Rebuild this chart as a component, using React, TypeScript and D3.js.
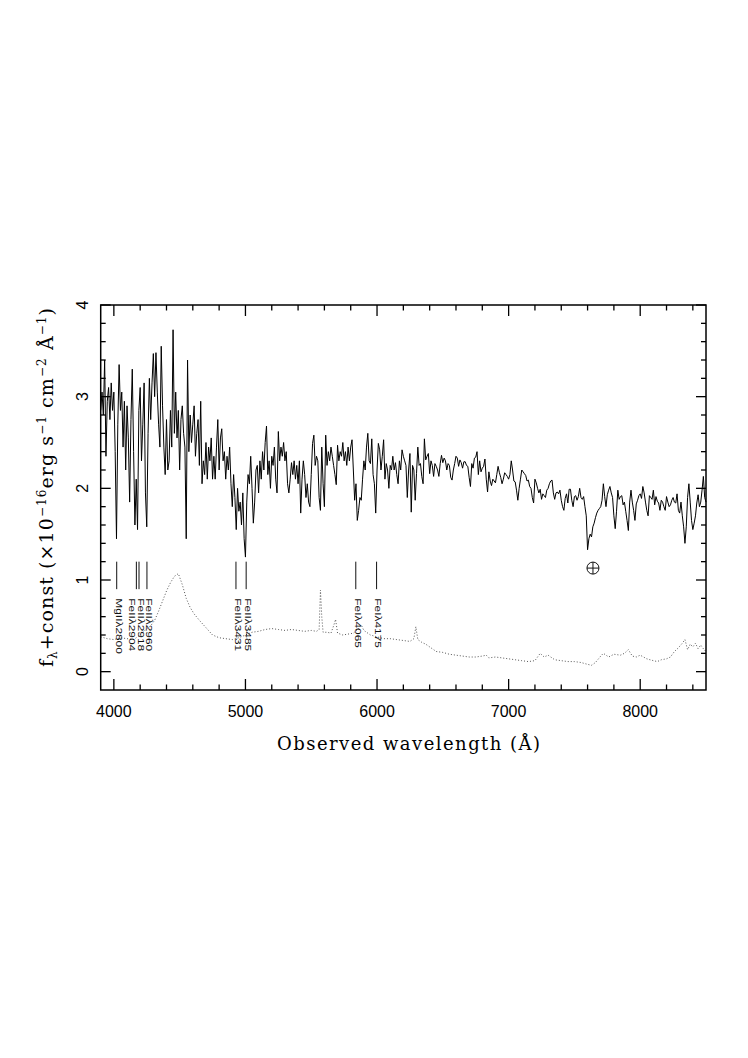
import * as d3 from "d3";

const WAVE_START = 3900;
const WAVE_STEP = 10;
const flux = [
  2.85, 3.05, 2.8, 3.4, 2.35, 2.95, 3.1, 2.75, 3.15, 2.85,
  3.05, 2.4, 1.45, 2.7, 3.35, 2.85, 3.05, 2.45, 2.95, 2.2,
  2.9, 2.55, 1.85, 2.75, 3.3, 2.4, 1.6, 2.1, 1.55, 2.85,
  3.1, 2.3, 2.7, 3.15, 1.95, 1.58, 2.6, 3.2, 2.75, 3.15,
  3.47, 3.0, 3.48, 3.05, 2.7, 2.45, 3.55, 2.9, 2.45, 2.15,
  2.75, 2.2, 2.3, 2.85, 2.45, 3.73, 2.6, 3.05, 2.55, 2.85,
  2.2, 2.75, 2.9, 2.6, 2.45, 1.45, 3.4, 2.4, 2.8, 2.5,
  2.7, 2.9, 2.35, 2.6, 2.75, 2.25, 2.95, 2.05, 2.3, 2.15,
  2.5, 2.1, 2.45, 2.3, 2.55, 2.1, 2.35, 2.1, 2.45, 2.75,
  2.2, 2.55, 2.65, 2.3, 2.4, 2.1, 2.35, 2.2, 2.45, 2.05,
  1.8, 2.15, 1.9, 1.55, 2.0, 1.75, 1.85, 1.6, 1.95, 1.45,
  1.25, 1.85, 2.15, 2.05, 2.35, 2.0, 1.62, 1.85, 2.2, 2.25,
  1.95, 2.3, 2.1, 2.4, 2.2, 2.5, 2.68, 2.15, 2.3, 2.0,
  2.35, 2.25, 2.45, 2.1, 1.95, 2.62, 2.3, 2.45, 2.35, 2.5,
  2.3, 2.4, 2.05, 1.95, 2.1, 2.28, 2.15, 2.3, 2.1, 2.25,
  2.05, 2.3, 1.73, 2.1, 2.3, 2.15, 1.9, 2.05, 1.85, 1.8,
  2.15, 2.49, 2.58, 2.25, 2.35, 2.3, 1.9, 1.76, 2.45, 2.05,
  1.8, 2.58, 2.25, 2.4, 2.3, 2.45, 2.35, 2.25, 2.15, 2.04,
  2.47, 2.3, 2.4, 2.35, 2.5, 2.3, 2.4, 2.25, 2.45, 2.3,
  2.45, 2.53, 2.2, 1.87, 2.05, 1.65, 1.76, 1.9, 1.87, 2.1,
  2.3, 2.2, 2.45, 2.6, 2.3, 2.27, 2.54, 2.15, 2.05, 1.73,
  2.2, 2.49, 2.42, 2.2, 2.35, 2.53, 2.1, 2.27, 2.2, 2.0,
  2.25, 2.2, 2.35, 2.2, 2.28, 2.15, 2.05, 2.3, 2.2, 2.42,
  2.35, 2.3, 2.25, 1.9, 2.2, 2.38, 1.74, 2.25, 2.2, 1.87,
  2.16, 2.45, 2.25, 2.27, 2.13, 2.05, 2.54, 2.31, 2.35, 2.38,
  2.16, 2.3, 2.25, 2.13, 2.27, 2.24, 2.2, 2.13, 2.27, 2.36,
  2.28, 2.33, 2.3, 2.2, 2.27, 2.25, 2.12, 2.09, 2.2, 2.27,
  2.35, 2.33, 2.24, 2.31, 2.28, 2.22, 2.29, 2.29, 2.25, 2.24,
  2.12, 2.02, 2.27, 2.22, 2.33, 2.34, 2.4, 2.15, 2.3, 2.18,
  2.22, 2.24, 2.32, 2.1, 1.96, 2.18, 2.08, 2.03, 2.1, 2.08,
  2.06, 2.15, 2.24, 2.17, 2.12, 2.05, 2.1, 2.17, 2.15, 2.13,
  2.1, 2.15, 2.3, 2.2, 2.08, 2.07, 1.98, 1.87, 2.0, 2.1,
  2.2, 2.18, 2.16, 2.14, 2.08, 2.09, 2.02, 2.0, 1.9, 1.84,
  2.1, 2.06, 2.0, 1.95, 1.99, 1.88, 1.94, 1.92, 1.9, 1.98,
  2.0, 2.05, 2.08, 2.09, 1.95, 1.88, 1.95, 1.96, 1.94, 1.98,
  1.87, 1.8, 1.76, 1.89, 1.94, 1.84, 1.99, 1.99, 1.87, 1.8,
  1.91, 1.92, 1.87, 1.91, 2.0, 1.9, 1.88, 1.91, 1.8, 1.7,
  1.33, 1.45, 1.5, 1.47, 1.58, 1.62, 1.68, 1.73, 1.76, 1.78,
  1.8, 1.87, 2.05, 1.91, 1.8, 1.93, 1.98, 2.02, 1.95, 1.9,
  1.7, 1.56, 1.75, 1.98, 1.88, 1.91, 1.92, 1.82, 1.85, 1.75,
  1.65, 1.54, 1.85, 1.98, 1.85, 1.76, 1.65, 1.83, 1.87, 1.92,
  1.94, 1.89, 2.02, 1.95, 1.85, 1.76, 1.7, 1.92, 1.9, 1.88,
  1.98, 1.82, 1.91, 1.86, 1.84, 1.76, 1.87, 1.85, 1.8, 1.76,
  1.91, 1.85, 1.8, 1.82, 1.87, 1.9, 1.85, 1.84, 1.94, 1.76,
  1.73, 1.85, 1.7, 1.58, 1.4, 1.58, 1.9, 2.05, 1.85, 1.65,
  1.55, 1.62, 1.7, 1.84, 1.93, 1.8, 1.85, 1.98, 2.13, 1.9,
  1.85,
];

// sky / comparison spectrum drawn dotted: [wavelength, flux]
const skyCurve: [number, number][] = [
  [3900, 0.38], [3950, 0.36], [4000, 0.35], [4050, 0.37], [4100, 0.36],
  [4150, 0.35], [4200, 0.4], [4250, 0.47], [4280, 0.5], [4310, 0.56],
  [4340, 0.66], [4370, 0.77], [4400, 0.88], [4430, 0.97], [4460, 1.04],
  [4490, 1.07], [4520, 0.95], [4550, 0.8], [4580, 0.7], [4610, 0.63],
  [4650, 0.56], [4700, 0.48], [4750, 0.4], [4800, 0.37], [4850, 0.36],
  [4900, 0.35], [4950, 0.37], [5000, 0.4], [5050, 0.43], [5100, 0.44],
  [5150, 0.46], [5200, 0.47], [5250, 0.46], [5300, 0.45], [5350, 0.46],
  [5400, 0.45], [5450, 0.44], [5500, 0.45], [5540, 0.44], [5560, 0.46],
  [5570, 0.89], [5580, 0.6], [5590, 0.43], [5620, 0.43], [5650, 0.42],
  [5670, 0.5], [5685, 0.57], [5700, 0.42], [5740, 0.4], [5780, 0.41],
  [5820, 0.42], [5860, 0.47], [5880, 0.51], [5900, 0.45], [5950, 0.4],
  [6000, 0.38], [6050, 0.36], [6100, 0.36], [6150, 0.35], [6200, 0.34],
  [6250, 0.33], [6280, 0.36], [6295, 0.49], [6310, 0.35], [6340, 0.32],
  [6370, 0.3], [6400, 0.27], [6450, 0.22], [6500, 0.21], [6550, 0.19],
  [6600, 0.18], [6650, 0.17], [6700, 0.16], [6750, 0.16], [6800, 0.17],
  [6830, 0.18], [6850, 0.15], [6900, 0.16], [6950, 0.15], [7000, 0.14],
  [7050, 0.13], [7100, 0.12], [7150, 0.11], [7200, 0.12], [7240, 0.2],
  [7270, 0.16], [7300, 0.18], [7350, 0.13], [7400, 0.12], [7450, 0.11],
  [7500, 0.11], [7550, 0.1], [7600, 0.08], [7630, 0.07], [7660, 0.1],
  [7700, 0.17], [7720, 0.2], [7760, 0.16], [7800, 0.19], [7850, 0.18],
  [7880, 0.2], [7910, 0.24], [7940, 0.17], [7970, 0.16], [8000, 0.18],
  [8050, 0.14], [8100, 0.12], [8130, 0.11], [8160, 0.13], [8200, 0.14],
  [8230, 0.16], [8260, 0.22], [8290, 0.26], [8320, 0.31], [8340, 0.35],
  [8360, 0.24], [8380, 0.3], [8400, 0.27], [8420, 0.31], [8440, 0.25],
  [8460, 0.29], [8480, 0.25], [8500, 0.22],
];

// identified absorption lines (rest wavelengths) and redshift
const REDSHIFT = 0.4363;
const lineNames = ["MgIIλ2800", "FeIIλ2904", "FeIIλ2918", "FeIIλ2960", "FeIIλ3431", "FeIIλ3485", "FeIλ4065", "FeIλ4175"];
const lineRest = [2800, 2904, 2918, 2960, 3431, 3485, 4065, 4175];

// telluric A-band marker
const telluricWave = 7641;
const telluricFlux = 1.13;

const xDomain = [3900, 8500];
const yDomain = [-0.2, 4];
const xMajor = [4000, 5000, 6000, 7000, 8000];
const yMajor = [0, 1, 2, 3, 4];

const BOX = { left: 100.7, right: 706, top: 305, bottom: 690 };

export default function App() {
  const x = d3.scaleLinear().domain(xDomain).range([BOX.left, BOX.right]);
  const y = d3.scaleLinear().domain(yDomain).range([BOX.bottom, BOX.top]);

  const specLine = d3
    .line<number>()
    .x((_, i) => x(WAVE_START + i * WAVE_STEP))
    .y((d) => y(d));
  const skyLine = d3
    .line<[number, number]>()
    .x((d) => x(d[0]))
    .y((d) => y(d[1]));

  const xMinor = d3.range(4000, 8501, 200).filter((v) => v % 1000 !== 0);
  const yMinor = d3.range(1, 20).map((i) => i * 0.2).filter((v) => Math.abs(v - Math.round(v)) > 1e-6);

  const lineX = lineRest.map((r) => x(r * (1 + REDSHIFT)));

  const tickFont = "'Liberation Sans', Arial, sans-serif";
  const serif = "'DejaVu Serif', serif";

  return (
    <svg
      width={748}
      height={1058}
      style={{ position: "absolute", left: 0, top: 0, background: "#fff" }}
    >
      {/* dotted comparison spectrum */}
      <path
        d={skyLine(skyCurve) ?? ""}
        fill="none"
        stroke="#555"
        strokeWidth={1}
        strokeDasharray="1 2"
      />
      {/* object spectrum */}
      <path d={specLine(flux) ?? ""} fill="none" stroke="#000" strokeWidth={1} />

      {/* line identifications */}
      {lineNames.map((name, i) => {
        const lx = lineX[i];
        const crowded = i + 1 < lineX.length && lineX[i + 1] - lx < 5;
        const tx = lx - 1.2 + (crowded ? -6.5 : 0);
        const ty = y(0.8);
        return (
          <g key={name}>
            <line x1={lx} x2={lx} y1={y(1.2)} y2={y(0.9)} stroke="#111" strokeWidth={1} />
            <text
              transform={`translate(${tx},${ty}) rotate(90) scale(1.4,1)`}
              fontFamily={tickFont}
              fontSize={8.5}
              fill="#111"
            >
              {name}
            </text>
          </g>
        );
      })}

      {/* telluric symbol */}
      <g stroke="#111" strokeWidth={1} fill="none">
        <circle cx={x(telluricWave)} cy={y(telluricFlux)} r={6} />
        <line x1={x(telluricWave) - 6} x2={x(telluricWave) + 6} y1={y(telluricFlux)} y2={y(telluricFlux)} />
        <line x1={x(telluricWave)} x2={x(telluricWave)} y1={y(telluricFlux) - 6} y2={y(telluricFlux) + 6} />
      </g>

      {/* frame */}
      <rect
        x={BOX.left}
        y={BOX.top}
        width={BOX.right - BOX.left}
        height={BOX.bottom - BOX.top}
        fill="none"
        stroke="#000"
        strokeWidth={1.5}
      />

      {/* x ticks, bottom and top */}
      <g stroke="#000" strokeWidth={1.3}>
        {xMajor.map((v) => (
          <g key={`xM${v}`}>
            <line x1={x(v)} x2={x(v)} y1={BOX.bottom} y2={BOX.bottom - 11} />
            <line x1={x(v)} x2={x(v)} y1={BOX.top} y2={BOX.top + 11} />
          </g>
        ))}
        {xMinor.map((v) => (
          <g key={`xm${v}`}>
            <line x1={x(v)} x2={x(v)} y1={BOX.bottom} y2={BOX.bottom - 5.5} />
            <line x1={x(v)} x2={x(v)} y1={BOX.top} y2={BOX.top + 5.5} />
          </g>
        ))}
        {yMajor.map((v) => (
          <g key={`yM${v}`}>
            <line x1={BOX.left} x2={BOX.left + 10} y1={y(v)} y2={y(v)} />
            <line x1={BOX.right} x2={BOX.right - 10} y1={y(v)} y2={y(v)} />
          </g>
        ))}
        {yMinor.map((v) => (
          <g key={`ym${v.toFixed(1)}`}>
            <line x1={BOX.left} x2={BOX.left + 5} y1={y(v)} y2={y(v)} />
            <line x1={BOX.right} x2={BOX.right - 5} y1={y(v)} y2={y(v)} />
          </g>
        ))}
      </g>

      {/* tick labels */}
      {xMajor.map((v) => (
        <text
          key={`xl${v}`}
          x={x(v)}
          y={717}
          textAnchor="middle"
          fontFamily={tickFont}
          fontSize={16}
          fill="#000"
        >
          {v}
        </text>
      ))}
      {yMajor.map((v) => (
        <text
          key={`yl${v}`}
          transform={`translate(88,${y(v)}) rotate(-90)`}
          textAnchor="middle"
          fontFamily={tickFont}
          fontSize={16}
          fill="#000"
        >
          {v}
        </text>
      ))}

      {/* axis titles */}
      <text
        x={408.5}
        y={750}
        textAnchor="middle"
        fontFamily={serif}
        fontSize={18}
        textLength={263}
        lengthAdjust="spacing"
        fill="#000"
      >
        Observed wavelength (Å)
      </text>
      <text
        transform={`translate(53,487.5) rotate(-90)`}
        textAnchor="middle"
        fontFamily={serif}
        fontSize={19}
        textLength={359}
        lengthAdjust="spacing"
        fill="#000"
      >
        f
        <tspan fontSize={12} dy={4}>λ</tspan>
        <tspan dy={-4}>+const (×10</tspan>
        <tspan fontSize={12} dy={-7}>−16</tspan>
        <tspan dy={7}>erg s</tspan>
        <tspan fontSize={12} dy={-7}>−1</tspan>
        <tspan dy={7}> cm</tspan>
        <tspan fontSize={12} dy={-7}>−2</tspan>
        <tspan dy={7}> Å</tspan>
        <tspan fontSize={12} dy={-7}>−1</tspan>
        <tspan dy={7}>)</tspan>
      </text>
    </svg>
  );
}
